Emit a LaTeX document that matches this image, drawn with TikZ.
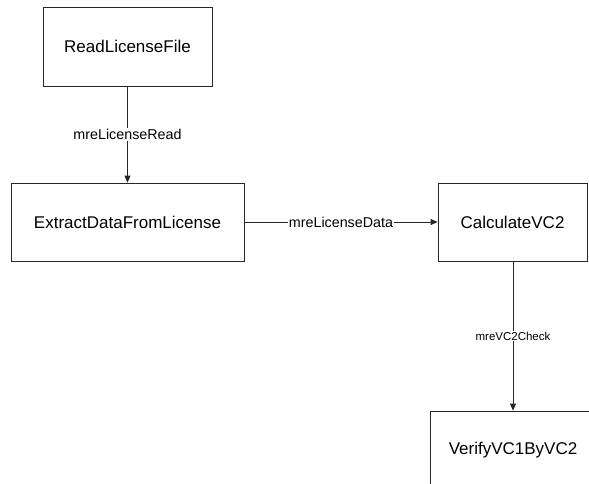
\documentclass[tikz,border=0pt]{standalone}
\usepackage{fontspec}
\setmainfont{Liberation Sans}
\usetikzlibrary{arrows.meta}
\begin{document}
\begin{tikzpicture}[x=1pt,y=-1pt,
  box/.style={draw=black!85, line width=0.8pt, inner sep=0pt,
    font=\fontsize{17}{20}\selectfont},
  flow/.style={draw=black!85, line width=0.8pt,
    -{Triangle[length=7pt,width=6pt]}},
  lab/.style={fill=white, inner sep=1pt, font=\fontsize{14.3}{16}\selectfont},
  smalllab/.style={lab, font=\fontsize{11.5}{13}\selectfont}]
\useasboundingbox (0,0) rectangle (589,483);
\clip (0,0) rectangle (589,483);

% process boxes
\node[box, minimum width=169pt, minimum height=79pt] (read) at (127.5,46.5) {ReadLicenseFile};
\node[box, minimum width=233pt, minimum height=78pt] (extract) at (127.5,222) {ExtractDataFromLicense};
\node[box, minimum width=149pt, minimum height=78pt] (calc) at (512.5,222) {CalculateVC2};
\node[box, minimum width=166pt, minimum height=78pt] (verify) at (513,450) {VerifyVC1ByVC2};

% message flows
\draw[flow] (read) -- node[lab] {mreLicenseRead} (extract);
\draw[flow] (extract) -- node[lab] {mreLicenseData} (calc);
\draw[flow] (calc.south -| verify.north) -- node[smalllab] {mreVC2Check} (verify.north);
\end{tikzpicture}
\end{document}
